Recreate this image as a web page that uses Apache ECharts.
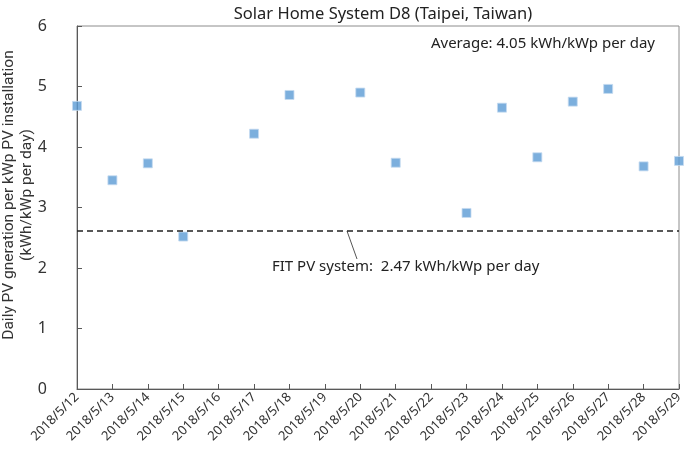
<!DOCTYPE html>
<html>
<head>
<meta charset="utf-8">
<script src="https://cdn.jsdelivr.net/npm/echarts@6/dist/echarts.min.js"></script>
<style>
  html, body { margin: 0; padding: 0; background: #fff; }
  #chart { width: 685px; height: 457px; }
</style>
</head>
<body>
<div id="chart"></div>
<script>
const days = ['2018/5/12', '2018/5/13', '2018/5/14', '2018/5/15', '2018/5/16', '2018/5/17',
  '2018/5/18', '2018/5/19', '2018/5/20', '2018/5/21', '2018/5/22', '2018/5/23',
  '2018/5/24', '2018/5/25', '2018/5/26', '2018/5/27', '2018/5/28', '2018/5/29'];
// null = no reading that day
const dailyYield = [4.68, 3.45, 3.73, 2.52, null, 4.22, 4.86, null, 4.90, 3.74, null, 2.91,
  4.65, 3.83, 4.75, 4.96, 3.68, 3.77];
const fitLevel = 2.61;
const yTicks = [0, 6, 1];

const font = 'Noto Sans';
const chart = echarts.init(document.getElementById('chart'), null, { renderer: 'canvas' });

chart.setOption({
  backgroundColor: '#fff',
  animation: false,
  title: {
    text: 'Solar Home System D8 (Taipei, Taiwan)',
    left: 378, top: 1, textAlign: 'center',
    textStyle: { fontFamily: font, fontSize: 16.5, fontWeight: 'normal', color: '#222' }
  },
  grid: {
    left: 77, right: 6, top: 26, bottom: 68,
    outerBoundsMode: 'none', containLabel: false,
    show: true, borderColor: '#8c8c8c', borderWidth: 1
  },
  xAxis: {
    type: 'category',
    data: days,
    boundaryGap: false,
    axisLine: { lineStyle: { color: '#595959' } },
    axisTick: { inside: true, length: 5, lineStyle: { color: '#595959' } },
    axisLabel: { rotate: 45, interval: 0, fontFamily: font, fontSize: 13, color: '#333', margin: 6 },
    splitLine: { show: false }
  },
  yAxis: {
    type: 'value',
    min: yTicks[0], max: yTicks[1], interval: yTicks[2],
    axisLine: { show: true, lineStyle: { color: '#595959' } },
    axisTick: { show: true, inside: true, length: 5, lineStyle: { color: '#595959' } },
    axisLabel: { fontFamily: font, fontSize: 16, color: '#333', margin: 30 },
    splitLine: { show: false }
  },
  series: [{
    type: 'scatter',
    data: dailyYield,
    symbol: 'rect',
    symbolSize: 9,
    itemStyle: { color: '#5b9bd5', borderColor: '#c5dbf0', borderWidth: 1 },
    markLine: {
      silent: true,
      symbol: 'none',
      label: { show: false },
      lineStyle: { type: [6, 4], color: '#222', width: 1.5 },
      data: [{ yAxis: fitLevel }]
    }
  }],
  graphic: [
    {
      // y-axis title, placed by hand to sit like the original
      type: 'text', x: 18, y: 195, rotation: Math.PI / 2,
      style: {
        text: 'Daily PV gneration per kWp PV installation\n(kWh/kWp per day)',
        font: '15.5px Roboto', fill: '#333', lineHeight: 18,
        align: 'center', verticalAlign: 'middle'
      }
    },
    {
      type: 'text', right: 30, top: 36,
      style: { text: 'Average: 4.05 kWh/kWp per day', font: '15px "Noto Sans"', fill: '#222' }
    },
    {
      type: 'text', left: 272, top: 259,
      style: { text: 'FIT PV system:  2.47 kWh/kWp per day', font: '15px "Noto Sans"', fill: '#222' }
    },
    {
      type: 'line',
      shape: { x1: 347, y1: 231, x2: 357, y2: 259 },
      style: { stroke: '#555', lineWidth: 1 }
    }
  ]
});
</script>
</body>
</html>
